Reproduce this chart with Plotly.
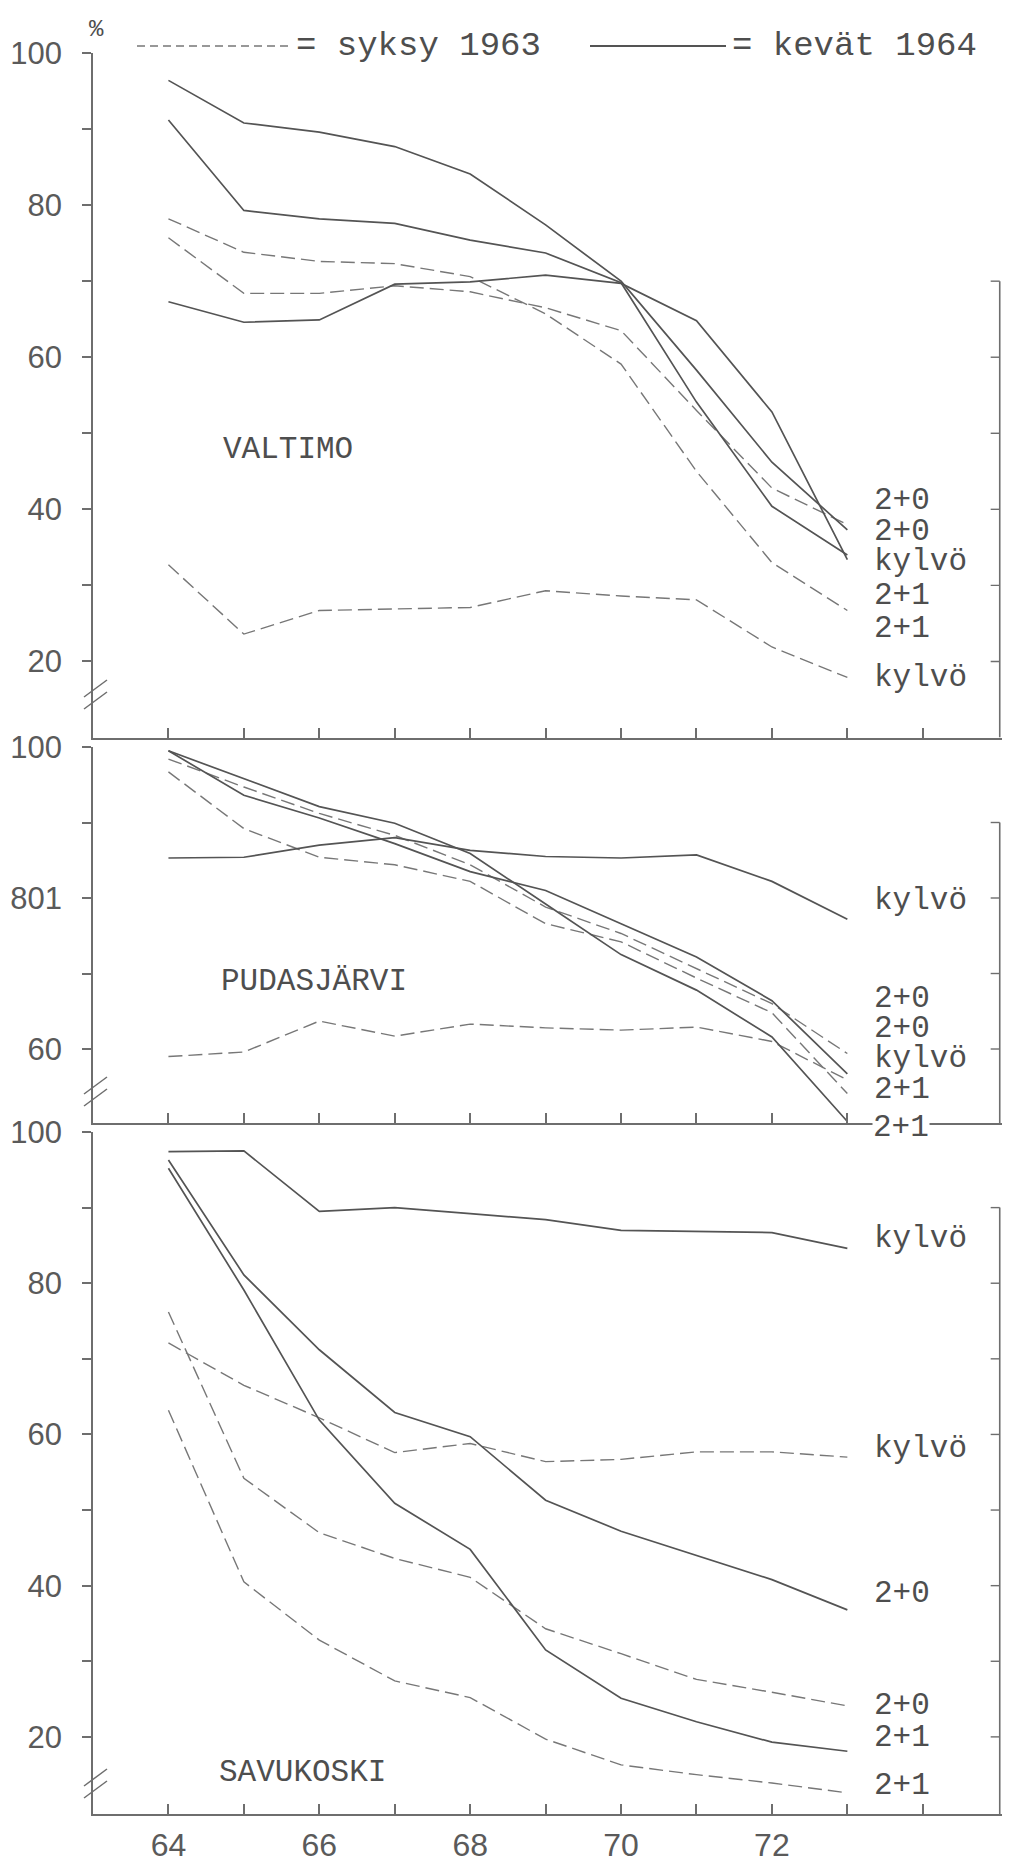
import plotly.graph_objects as go

W, H = 1009, 1867

years = [64, 65, 66, 67, 68, 69, 70, 71, 72, 73]
x_tick_vals = [64, 65, 66, 67, 68, 69, 70, 71, 72, 73, 74]
x_tick_text = ["64", "", "66", "", "68", "", "70", "", "72", "", ""]

# VALTIMO
val_kevat_20 = [96.4, 90.8, 89.6, 87.7, 84.1, 77.4, 70.0, 58.3, 46.2, 37.3]
val_kevat_21 = [91.2, 79.3, 78.2, 77.6, 75.4, 73.7, 69.8, 54.1, 40.4, 34.0]
val_kevat_kylvo = [67.3, 64.6, 64.9, 69.6, 69.9, 70.8, 69.7, 64.8, 52.8, 33.4]
val_syksy_20 = [75.7, 68.4, 68.4, 69.4, 68.6, 66.5, 63.5, 53.0, 42.8, 38.0]
val_syksy_21 = [78.2, 73.8, 72.6, 72.3, 70.6, 65.7, 59.1, 45.0, 33.0, 26.7]
val_syksy_kylvo = [32.7, 23.6, 26.7, 26.9, 27.1, 29.3, 28.6, 28.1, 21.9, 17.9]

# PUDASJÄRVI
pud_kevat_20 = [99.5, 93.6, 90.6, 87.2, 83.5, 81.0, 76.6, 72.2, 66.4, 56.7]
pud_kevat_21 = [99.5, 95.8, 92.1, 89.9, 85.9, 79.2, 72.5, 67.8, 61.6, 50.4]
pud_kevat_kylvo = [85.3, 85.4, 87.0, 88.0, 86.3, 85.5, 85.3, 85.7, 82.2, 77.2]
pud_syksy_20 = [98.4, 94.7, 91.2, 88.3, 84.4, 78.8, 75.3, 70.7, 66.0, 59.4]
pud_syksy_21 = [96.7, 89.2, 85.4, 84.4, 82.2, 76.6, 74.2, 69.4, 64.8, 54.1]
pud_syksy_kylvo = [59.0, 59.6, 63.7, 61.7, 63.3, 62.8, 62.5, 62.9, 61.0, 55.9]

# SAVUKOSKI
sav_kevat_20 = [96.3, 81.1, 71.2, 62.9, 59.7, 51.3, 47.2, 44.0, 40.8, 36.8]
sav_kevat_21 = [95.2, 79.1, 61.9, 50.9, 44.8, 31.5, 25.1, 22.0, 19.3, 18.1]
sav_kevat_kylvo = [97.4, 97.5, 89.5, 90.0, 89.2, 88.4, 87.0, 86.8, 86.7, 84.6]
sav_syksy_20 = [76.2, 54.2, 47.0, 43.6, 41.1, 34.3, 31.0, 27.6, 25.9, 24.1]
sav_syksy_21 = [63.2, 40.5, 32.8, 27.4, 25.2, 19.7, 16.3, 15.0, 13.9, 12.6]
sav_syksy_kylvo = [72.1, 66.5, 62.2, 57.6, 58.8, 56.4, 56.7, 57.7, 57.7, 57.0]

# y ticks per panel
p1_ticks = [20, 30, 40, 50, 60, 70, 80, 90, 100]
p1_text = ["20", "", "40", "", "60", "", "80", "", "100"]
p2_ticks = [60, 70, 80, 90, 100]
p2_text = ["60", "", "801", "", "100"]
p3_ticks = [20, 30, 40, 50, 60, 70, 80, 90, 100]
p3_text = ["20", "", "40", "", "60", "", "80", "", "100"]

panel_names = ["VALTIMO", "PUDASJÄRVI", "SAVUKOSKI"]
p1_labels = ["2+0", "2+0", "kylvö", "2+1", "2+1", "kylvö"]
p2_labels = ["kylvö", "2+0", "2+0", "kylvö", "2+1", "2+1"]
p3_labels = ["kylvö", "kylvö", "2+0", "2+0", "2+1", "2+1"]
legend_syksy = "= syksy 1963"
legend_kevat = "= kevät 1964"


def px(x):
    return x / W


def py(y):
    return 1 - y / H


SOLID = dict(color="#545454", width=1.7)
DASH = dict(color="#777777", width=1.4, dash="14px,6px")
AX = "#6e6e6e"
MONO = "Liberation Mono, DejaVu Sans Mono, monospace"
SANS = "Liberation Sans, Arial, sans-serif"

fig = go.Figure()

series = [
    ("x", "y", [val_kevat_20, val_kevat_21, val_kevat_kylvo], [val_syksy_20, val_syksy_21, val_syksy_kylvo]),
    ("x2", "y2", [pud_kevat_20, pud_kevat_21, pud_kevat_kylvo], [pud_syksy_20, pud_syksy_21, pud_syksy_kylvo]),
    ("x3", "y3", [sav_kevat_20, sav_kevat_21, sav_kevat_kylvo], [sav_syksy_20, sav_syksy_21, sav_syksy_kylvo]),
]
for xa, ya, solids, dashes in series:
    for s in dashes:
        fig.add_trace(go.Scatter(x=years, y=s, mode="lines", line=DASH, xaxis=xa, yaxis=ya,
                                 showlegend=False, hoverinfo="skip"))
    for s in solids:
        fig.add_trace(go.Scatter(x=years, y=s, mode="lines", line=SOLID, xaxis=xa, yaxis=ya,
                                 showlegend=False, hoverinfo="skip"))

XMAX = 75.05
xdom = [px(93), px(1002)]
xbase = dict(range=[63, XMAX], domain=xdom, showgrid=False, zeroline=False, showline=True,
             linecolor=AX, linewidth=2, ticks="inside", ticklen=10, tickwidth=1.5, tickcolor=AX,
             tickmode="array", tickvals=x_tick_vals, ticktext=x_tick_text, fixedrange=True,
             automargin=False, tickfont=dict(family=SANS, size=32, color="#5a5a5a"))
ybase = dict(showgrid=False, zeroline=False, showline=True, linecolor=AX, linewidth=1.5,
             ticks="outside", ticklen=9, tickwidth=1.5, tickcolor=AX, tickmode="array",
             fixedrange=True, automargin=False, ticklabelstandoff=14,
             tickfont=dict(family=SANS, size=31, color="#5a5a5a"))

P2_BOTTOM = 50.2
layout = dict(
    width=W, height=H, margin=dict(l=0, r=0, t=0, b=0), autosize=False,
    paper_bgcolor="white", plot_bgcolor="white", showlegend=False,
    xaxis=dict(xbase, anchor="y", showticklabels=False),
    xaxis2=dict(xbase, anchor="y2", showticklabels=False),
    xaxis3=dict(xbase, anchor="y3", showticklabels=True, ticklabelstandoff=2),
    yaxis=dict(ybase, anchor="x", domain=[py(737.5), py(53)], range=[10, 100],
               tickvals=p1_ticks, ticktext=p1_text),
    yaxis2=dict(ybase, anchor="x2", domain=[py(1123), py(747)], range=[P2_BOTTOM, 100],
                tickvals=p2_ticks, ticktext=p2_text),
    yaxis3=dict(ybase, anchor="x3", domain=[py(1814), py(1132)], range=[9.8, 100],
                tickvals=p3_ticks, ticktext=p3_text),
)
fig.update_layout(**layout)

shapes = []
# right-hand page edge lines (neighbouring chart) with ticks
edge_x = 75.02
edge_tick = 74.9
for xr, yref, top, bottom, ticks in [("x", "y", 70, 10, [70, 60, 50, 40, 30, 20]),
                                      ("x2", "y2", 90, P2_BOTTOM, [90, 80, 70, 60]),
                                      ("x3", "y3", 90, 9.8, [90, 80, 70, 60, 50, 40, 30, 20])]:
    shapes.append(dict(type="line", xref=xr, yref=yref, x0=edge_x, x1=edge_x, y0=top, y1=bottom,
                       line=dict(color=AX, width=1.6)))
    for t in ticks:
        shapes.append(dict(type="line", xref=xr, yref=yref, x0=edge_tick, x1=edge_x, y0=t, y1=t,
                           line=dict(color=AX, width=1.4)))

# axis break marks
for c in [695, 1092, 1784]:
    for off in (0, 12):
        shapes.append(dict(type="line", xref="paper", yref="paper",
                           x0=px(84), y0=py(c + 2 + off), x1=px(107), y1=py(c - 15 + off),
                           line=dict(color=AX, width=1.5)))

# legend samples
shapes.append(dict(type="line", xref="paper", yref="paper", x0=px(137), x1=px(288), y0=py(46), y1=py(46),
                   line=dict(color="#777777", width=1.5, dash="8px,5px")))
shapes.append(dict(type="line", xref="paper", yref="paper", x0=px(590), x1=px(726), y0=py(46), y1=py(46),
                   line=dict(color="#545454", width=1.8)))

annotations = []


def txt(text, x, y, size=31, xanchor="left", bg=None):
    a = dict(text=text, xref="paper", yref="paper", x=px(x), y=py(y), xanchor=xanchor, yanchor="middle",
             showarrow=False, font=dict(family=MONO, size=size, color="#4e4e4e"))
    if bg:
        a["bgcolor"] = bg
        a["borderpad"] = 0
    annotations.append(a)


txt("%", 96, 29, size=24, xanchor="center")
txt(legend_syksy, 294, 46, size=34)
txt(legend_kevat, 730, 46, size=34)

txt(panel_names[0], 288, 449, xanchor="center")
txt(panel_names[1], 314, 981, xanchor="center")
txt(panel_names[2], 302, 1772, xanchor="center")

RX = 872
for lab, y in zip(p1_labels, [500, 531, 562, 595, 628, 677]):
    txt(lab, RX, y)
for lab, y in zip(p2_labels, [900, 998, 1028, 1058, 1089, 1127]):
    txt(lab, RX, y, bg="white" if y > 1110 else None)
for lab, y in zip(p3_labels, [1238, 1448, 1593, 1705, 1737, 1785]):
    txt(lab, RX, y)

fig.update_layout(shapes=shapes, annotations=annotations)
fig.write_html("out.html", config={"displayModeBar": False},
               post_script="document.body.style.margin='0px';")
